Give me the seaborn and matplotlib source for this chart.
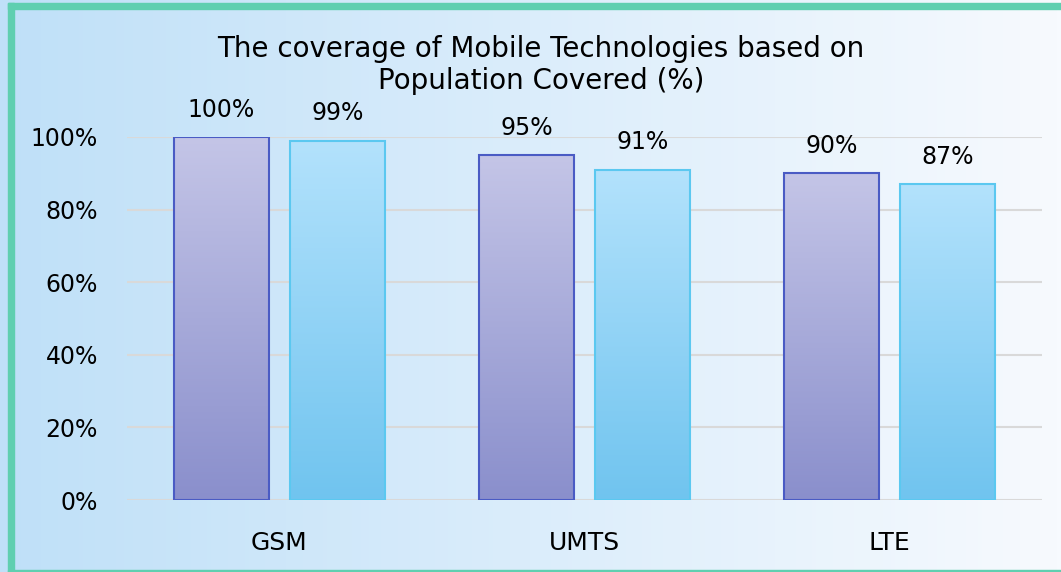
import numpy as np
import pandas as pd
import seaborn as sns
import matplotlib.pyplot as plt
from matplotlib.colors import to_rgba
from matplotlib.patches import Rectangle

# data
technologies = ["GSM", "UMTS", "LTE"]
series_1 = [100, 95, 90]
series_2 = [99, 91, 87]
series_names = ["Series 1", "Series 2"]

df = pd.DataFrame({
    "Technology": technologies * 2,
    "Coverage": series_1 + series_2,
    "Series": [series_names[0]] * 3 + [series_names[1]] * 3,
})

sns.set_style("white")
plt.rcParams["font.family"] = ["DejaVu Sans"]
plt.rcParams["text.color"] = "black"
plt.rcParams["xtick.color"] = "black"
plt.rcParams["ytick.color"] = "black"

fig = plt.figure(figsize=(10.61, 5.72), dpi=100)

# background gradient
bg = fig.add_axes([0, 0, 1, 1], zorder=-5)
left_c = np.array(to_rgba("#bfe0f8"))
right_c = np.array(to_rgba("#f7fafe"))
t = np.linspace(0, 1, 256)
grad = left_c[None, None, :] * (1 - t)[None, :, None] + right_c[None, None, :] * t[None, :, None]
bg.imshow(grad, aspect="auto", extent=[0, 1, 0, 1])
bg.set_axis_off()

# green frame
frame_c = "#5fcfb0"
fig.patches.append(Rectangle((8 / 1061, 0), 6 / 1061, 1 - 3 / 572, transform=fig.transFigure,
                             color=frame_c, zorder=-1))
fig.patches.append(Rectangle((8 / 1061, 1 - 9 / 572), 1, 6 / 572, transform=fig.transFigure,
                             color=frame_c, zorder=-1))
fig.patches.append(Rectangle((8 / 1061, 0), 1, 2 / 572, transform=fig.transFigure,
                             color=frame_c, zorder=-1))

ax = fig.add_axes([127 / 1061, 1 - 500 / 572, 915 / 1061, 363 / 572])
ax.set_facecolor("none")

sns.barplot(data=df, x="Technology", y="Coverage", hue="Series", order=technologies,
            palette=["#b0b2de", "#9dd8f8"], width=0.76, gap=0.18, legend=False, ax=ax)

tops = {0: "#c4c5e7", 1: "#b3e2fc"}
bottoms = {0: "#8a8fcc", 1: "#70c4ef"}
edges = {0: "#4a5bc4", 1: "#5bc8f0"}

for i, container in enumerate(ax.containers):
    top = np.array(to_rgba(tops[i]))
    bot = np.array(to_rgba(bottoms[i]))
    s = np.linspace(0, 1, 200)[:, None]
    img = (top * (1 - s) + bot * s)[:, None, :]
    for bar in container:
        x0 = bar.get_x()
        w = bar.get_width()
        h = bar.get_height()
        bar.set_facecolor("none")
        bar.set_edgecolor(edges[i])
        bar.set_linewidth(1.5)
        bar.set_zorder(3)
        im = ax.imshow(img, aspect="auto", extent=[x0, x0 + w, 0, h], zorder=2)
        im.set_clip_path(bar)
    ax.bar_label(container, labels=[f"{v:.0f}%" for v in container.datavalues],
                 padding=11, fontsize=17, color="black")

ax.set_xlim(-0.5, 2.5)
ax.set_ylim(0, 100)
ax.set_yticks(range(0, 101, 20))
ax.set_yticklabels([f"{v}%" for v in range(0, 101, 20)], fontsize=17)
ax.tick_params(axis="x", labelsize=18, pad=22, length=0)
ax.tick_params(axis="y", pad=21, length=0)
ax.set_xlabel("")
ax.set_ylabel("")
ax.yaxis.grid(True, color="#d9d9d9", linewidth=1.5)
ax.set_axisbelow(True)
sns.despine(ax=ax, left=True, bottom=True)

fig.text(541 / 1061, 1 - 65 / 572, "The coverage of Mobile Technologies based on\nPopulation Covered (%)",
         ha="center", va="center", fontsize=20, linespacing=1.2, color="black")

plt.savefig("out.png", dpi=100)
